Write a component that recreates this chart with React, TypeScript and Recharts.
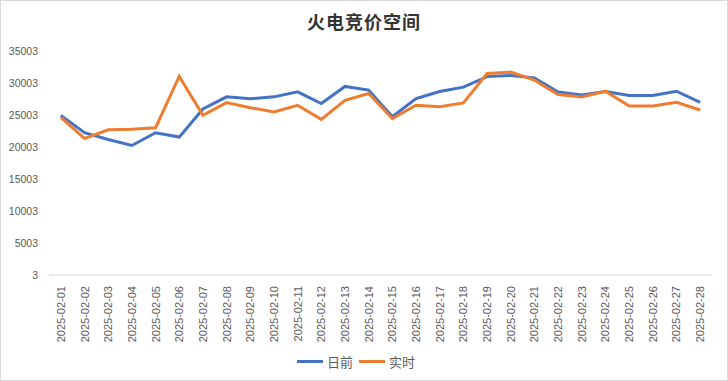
import React from 'react';
import { LineChart, Line, XAxis, YAxis, Legend } from 'recharts';

const dates = [
  '2025-02-01', '2025-02-02', '2025-02-03', '2025-02-04', '2025-02-05', '2025-02-06', '2025-02-07',
  '2025-02-08', '2025-02-09', '2025-02-10', '2025-02-11', '2025-02-12', '2025-02-13', '2025-02-14',
  '2025-02-15', '2025-02-16', '2025-02-17', '2025-02-18', '2025-02-19', '2025-02-20', '2025-02-21',
  '2025-02-22', '2025-02-23', '2025-02-24', '2025-02-25', '2025-02-26', '2025-02-27', '2025-02-28',
];

const dayAhead = [
  24950, 22230, 21180, 20240, 22230, 21550, 25950, 27840, 27530, 27840, 28630, 26800, 29470, 28890,
  24740, 27570, 28670, 29350, 31000, 31180, 30810, 28610, 28140, 28670, 28040, 28040, 28720, 26990,
];

const realTime = [
  24640, 21340, 22700, 22760, 23020, 31020, 24950, 26940, 26150, 25470, 26520, 24320, 27300, 28370,
  24430, 26520, 26310, 26890, 31490, 31700, 30450, 28200, 27830, 28720, 26420, 26420, 26990, 25790,
];

const yTicks = [3, 5003, 10003, 15003, 20003, 25003, 30003, 35003];
const boundaryTicks = Array.from({ length: dates.length + 1 }, (_, i) => i);

const data = dates.map((d, i) => ({ date: d, 日前: dayAhead[i], 实时: realTime[i] }));

const BLUE = '#4472C4';
const ORANGE = '#ED7D31';
const LABEL = '#595959';

// half of one category band, so points sit in the middle of each slot
const HALF_BAND = 663 / dates.length / 2;

function DateTick({ x, y, payload }: any) {
  return (
    <text
      x={x}
      y={y}
      transform={`rotate(-90, ${x}, ${y})`}
      textAnchor="end"
      dominantBaseline="central"
      fill={LABEL}
      fontSize={11}
      fontFamily="'Liberation Sans', sans-serif"
    >
      {payload.value}
    </text>
  );
}

function LegendContent() {
  const items = [
    { name: '日前', color: BLUE },
    { name: '实时', color: ORANGE },
  ];
  return (
    <div style={{ display: 'flex', justifyContent: 'center', alignItems: 'center', gap: 6 }}>
      {items.map((it) => (
        <div key={it.name} style={{ display: 'flex', alignItems: 'center', gap: 4 }}>
          <span style={{ width: 26, height: 3, background: it.color, display: 'inline-block' }} />
          <span style={{ fontSize: 13, color: LABEL, fontFamily: "'Noto Sans CJK SC', sans-serif" }}>{it.name}</span>
        </div>
      ))}
    </div>
  );
}

export default function App() {
  return (
    <div
      style={{
        position: 'absolute',
        top: 0,
        left: 0,
        width: 728,
        height: 381,
        background: '#fff',
      }}
    >
      <div
        style={{
          position: 'absolute',
          top: 8,
          left: 0,
          width: 728,
          textAlign: 'center',
          fontSize: 18,
          fontWeight: 'bold',
          color: '#333',
          fontFamily: "'Noto Sans CJK SC', sans-serif",
          letterSpacing: 1,
        }}
      >
        火电竞价空间
      </div>
      <LineChart width={728} height={381} data={data} margin={{ top: 51, right: 16, left: 0, bottom: 10 }}>
        <XAxis
          xAxisId="a"
          type="number"
          domain={[0, dates.length]}
          ticks={boundaryTicks}
          tick={false}
          height={7}
          stroke="#d9d9d9"
          tickSize={5}
          allowDataOverflow
        />
        <XAxis
          xAxisId="b"
          dataKey="date"
          interval={0}
          axisLine={false}
          tickLine={false}
          tickSize={2}
          height={70}
          padding={{ left: HALF_BAND, right: HALF_BAND }}
          tick={<DateTick />}
        />
        <YAxis
          domain={[3, 35003]}
          ticks={yTicks}
          width={49}
          axisLine={false}
          tickLine={false}
          tick={{ fill: LABEL, fontSize: 10.5, fontFamily: "'Liberation Sans', sans-serif" }}
          tickMargin={5}
          interval={0}
        />
        <Line
          xAxisId="b"
          type="linear"
          dataKey="日前"
          stroke={BLUE}
          strokeWidth={3}
          dot={false}
          isAnimationActive={false}
        />
        <Line
          xAxisId="b"
          type="linear"
          dataKey="实时"
          stroke={ORANGE}
          strokeWidth={3}
          dot={false}
          isAnimationActive={false}
        />
        <Legend verticalAlign="bottom" content={<LegendContent />} />
      </LineChart>
      <div
        style={{
          position: 'absolute',
          top: 0,
          left: 0,
          width: 728,
          height: 381,
          boxSizing: 'border-box',
          border: '1px solid #d9d9d9',
          pointerEvents: 'none',
        }}
      />
    </div>
  );
}
